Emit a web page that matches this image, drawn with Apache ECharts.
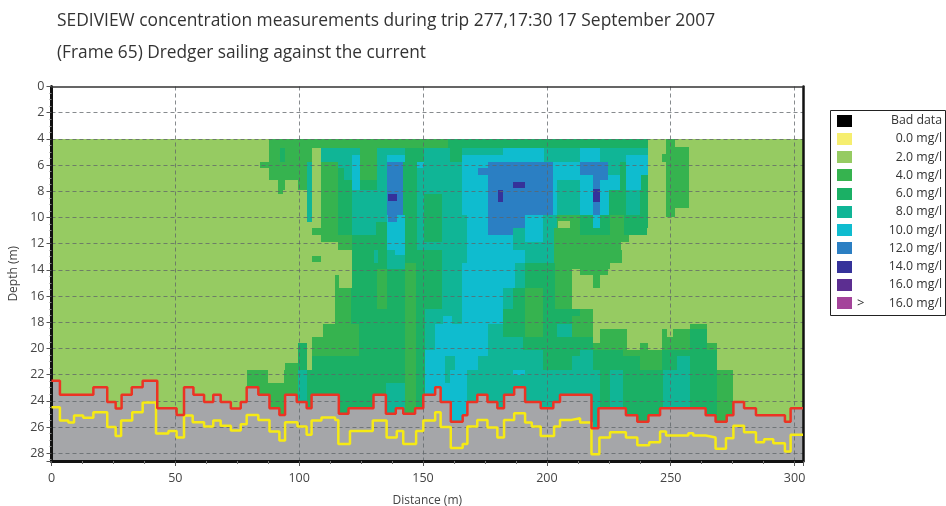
<!DOCTYPE html>
<html><head><meta charset="utf-8">
<style>html,body{margin:0;padding:0;background:#fff}#c{width:946px;height:506px}</style>
<script src="https://cdn.jsdelivr.net/npm/echarts@6/dist/echarts.min.js"></script>
</head><body><div id="c"></div>
<script>
const titleLine1 = 'SEDIVIEW concentration measurements during trip 277,17:30 17 September 2007';
const titleLine2 = '(Frame 65) Dredger sailing against the current';
const xName = 'Distance (m)';
const yName = 'Depth (m)';
const xMax = 303.4;
const yMax = 28.6;
const legendKeys = ['bad', 0, 2, 4, 6, 8, 10, 12, 14, 16, 99];
const legendLabels = ['Bad data','0.0 mg/l','2.0 mg/l','4.0 mg/l','6.0 mg/l','8.0 mg/l','10.0 mg/l','12.0 mg/l','14.0 mg/l','16.0 mg/l','16.0 mg/l'];
const classColors = {bad:'#000000',0:'#f6ee6f',2:'#96cb62',4:'#36b34f',6:'#1bb065',8:'#10b596',10:'#0fbccf',12:'#2b7fc3',14:'#35329a',16:'#5c2e91',99:'#a4449a'};

// Depth bands (top, bottom in m) and, for each, runs: start distance, class, start distance, class ...
const bandEdges = [4,4.67,5.2,5.74,6.25,6.76,7.14,7.9,8.2,9.8,10.32,10.8,11.34,11.85,12.5,13.5,13.9,14.4,15.4,17,17.5,18.1,18.5,19.1,19.6,20.1,20.6,21.13,21.64,22.66,26.6];
const bandRuns = [
 [0,2,87.8,4,160,6,241,2],
 [0,2,87.8,4,92.3,6,94.3,4,105,2,109,8,124.6,4,131.3,8,142.8,6,150.2,8,160.9,6,165.6,8,182.4,10,199,8,213.4,10,221.5,8,241,2],
 [0,2,87.8,4,92.3,6,94.3,4,105,2,109,8,121.2,10,124.6,4,131.3,8,135.3,10,142.8,6,150.2,8,160.9,6,165.6,10,199,8,213.4,10,221.5,8,232,10,241,2],
 [0,2,84.2,4,103,8,105,2,109,4,115.8,8,121.2,10,124.6,4,131.3,8,135.3,12,142,6,147.5,10,150.2,8,165.6,10,176.4,12,202.6,10,213.4,12,224.8,8,229.5,6,232,10,241,2],
 [0,2,87.8,4,103,8,105,2,109,4,115.8,6,118,8,121.2,10,124.6,4,131.3,8,135.3,12,142,6,147.5,8,165.6,10,172.3,12,202.6,10,213.4,12,224.8,8,229.5,6,232,10,241,2],
 [0,2,87.8,4,103,8,105,2,109,4,115.8,6,118,8,121.2,10,124.6,4,131.3,8,135.3,12,142,6,147.5,8,165.6,10,176.4,12,202.6,10,218.8,12,224.8,10,229.5,6,232,10,238,6,241,2],
 [0,2,91.5,4,94.3,2,99.7,4,103,8,105,2,109,4,115.8,6,121.2,10,124.6,6,131.3,8,135.3,12,142,6,147.5,8,165.6,10,176.4,12,202.6,10,204,8,213.4,10,218.8,12,221.5,10,229.5,6,232,10,238,6,241,2],
 [0,2,91.5,4,93.5,2,103,8,105,2,109,4,115.8,6,121.2,8,135.3,12,142,6,147.5,8,165.6,10,176.4,12,202.6,10,204,8,213.4,10,218.8,12,221.5,10,225,6,232,8,237.5,6,241,2],
 [0,2,103,8,105,2,109,4,115.8,6,121.2,8,135.3,12,142,6,147.5,8,150.2,6,157.6,8,165.6,10,176.4,12,202.6,10,204,8,213.4,10,218.8,12,221.5,10,225,6,232,8,237.5,6,241,2],
 [0,2,103,8,105,2,109,4,115.8,6,121.2,8,135.3,10,142.8,6,147.5,8,150.2,6,157.6,8,167.6,10,176.4,12,191.2,10,198.6,8,204,4,213.4,6,218.8,10,221.5,6,225.5,4,231,6,241,2],
 [0,2,109,4,115.8,6,121.2,8,131,6,135.3,10,142.8,6,147.5,8,150.2,6,157.6,8,167.6,10,176.4,12,191.2,10,198.6,8,204,4,213.4,6,218.8,10,221.5,6,225.5,4,231,6,241,2],
 [0,2,105,4,115.8,6,121.2,8,131,6,135.3,10,142.8,6,147.5,8,150.2,6,157.6,8,167.6,10,176.4,12,186.5,8,191.2,10,198.6,8,203,4,213.4,6,225.5,4,231,6,240.5,2],
 [0,2,109,4,121.2,6,135.3,10,142.8,6,147.5,8,150.2,6,157.6,8,167.6,10,186.5,8,191.2,10,198.6,8,203,4,233,2],
 [0,2,115.8,4,121.2,6,135.3,10,142.8,6,147.5,8,150.2,8,167.6,10,186.5,8,203,4,230,2],
 [0,2,121.2,6,130,8,132,6,135.3,8,142.8,6,157.6,8,167.6,10,191.2,8,203,4,230.2,2],
 [0,2,121.2,6,135.3,8,142.8,4,147,6,157.6,8,165.6,10,187,8,191.2,6,203.3,4,225.5,2],
 [0,2,121.2,6,131.3,4,135.3,6,142.8,4,147,6,157.6,8,165.6,10,187,8,191.2,6,203.3,4,210,2,213.4,4,224.8,2],
 [0,2,114.5,4,116,2,121.2,6,131.3,4,135.3,6,142.8,4,147,6,157.6,8,165.6,10,187,8,191.2,6,203.3,4,210,2,218.8,4,221.5,2],
 [0,2,114.5,4,121,6,131.3,4,135.3,6,142.8,4,147,6,157.6,8,165.6,10,182.4,8,186.5,6,191.2,4,198.6,6,203.3,4,210,2],
 [0,2,114.5,4,121,6,142.8,4,147,6,150.8,8,165.6,10,182.4,6,191.2,4,198.6,6,213.4,4,218.8,2],
 [0,2,114.5,4,121,6,142.8,4,147,6,150.8,8,158,10,161.5,8,165.6,10,182.4,6,191.2,4,198.6,6,210,4,218.8,2],
 [0,2,109.8,4,124,6,142.8,4,147,6,150.8,8,155,10,176.4,8,182.4,6,191.2,4,198.6,6,204,8,210,4,218.8,2,257.8,4,264.5,2],
 [0,2,109.8,4,124,6,142.8,4,147,6,150.8,8,155,10,176.4,8,182.4,6,191.2,4,198.6,6,204,8,210,4,218.8,2,221.5,4,232.2,2,246.4,4,248.4,2,251,4,257.8,6,264.5,2],
 [0,2,105,4,124,6,142.8,4,147,6,150.8,8,155,10,176.4,8,190.5,6,218.8,2,221.5,4,232.2,2,246.4,4,257.8,6,264.5,2],
 [0,2,99.7,6,103,2,105,4,124,6,142.8,4,147,6,150.8,8,155,10,176.4,8,190.5,6,218.8,4,232.2,2,237.6,4,241,2,246.4,4,257.8,6,264.5,4,268.6,2],
 [0,2,99.7,6,103,2,105,4,124,6,142.8,4,147,6,150.8,10,176.4,8,198.6,6,213.4,8,218.8,6,230.9,4,246.4,6,268.6,2],
 [0,2,99.7,6,103,2,105,6,142.8,4,147,6,150.8,10,158.9,8,163,10,172.3,8,198.6,6,210,8,218.8,6,237.6,4,246.4,6,252.4,8,257.8,6,268.6,2],
 [0,2,94.3,4,99.7,6,103,2,105,6,142.8,4,147,6,150.8,10,158.9,8,163,10,172.3,8,198.6,6,210,8,218.8,6,237.6,4,246.4,6,252.4,8,257.8,6,268.6,2],
 [0,2,78.8,4,87.5,2,94,4,99.7,8,103,6,142.8,4,147,6,150.8,10,158.9,8,160.9,10,167.6,8,221.5,6,225.5,8,230.9,6,247,8,257.8,6,268.6,4,275.3,2],
 [0,2,78.8,4,99.7,8,103,6,135,8,142.8,4,147,6,150.8,10,160.9,10,167.6,8,221.5,6,225.5,8,230.9,6,247,8,257.8,6,268.6,4,275.3,2]
];
// Small isolated cells: distance from, distance to, depth from, depth to, class
const detailCells = [
 [248,251.7,4,9.94,4],[251.7,257.5,4.64,9.3,4],[246.4,248,5.15,5.74,4],
 [135.7,139.4,8.24,8.74,14],[180.4,182.4,7.9,8.8,14],[186.5,191.2,7.3,7.76,14],[218.8,221.5,7.8,8.8,14],
 [135.7,139.4,9.8,10.32,12],[204.6,209.4,10.3,10.8,2],[105,109,12.94,13.37,4],
 [138.7,142.8,12.5,12.9,10],[186.5,191.2,21.64,22,10]
];
// Sea bed (red) and second echo (yellow) step lines: right end of each step and its depth
const redEnds = [3.4,16.9,22.5,25.9,28.3,32.4,36.8,42.7,50.5,53.5,57.3,61.6,65.3,68.3,72.4,76.4,78.8,83.5,88,92,94.3,99,103,105,116,119.9,130,135,139,142,146.8,150.1,154.9,157.1,161.2,166,167.9,171.9,176,180,182.7,186.8,191.2,197.5,202.6,205.3,218,220.8,231.9,236.5,241,245.7,264.1,268.1,272.6,275.3,279.6,284.4,296.1,298.4,303.4];
const redDepths = [22.48,23.55,22.96,24.1,24.6,23.55,22.96,22.48,24.57,25.08,22.96,23.55,24.1,23.55,24.1,24.6,24.1,22.96,23.55,24.57,25.08,23.55,24.1,24.57,23.55,25,24.57,23.55,25,24.57,25,24.57,23.55,22.96,24.1,25.6,25.1,24.1,23.55,24.1,24.57,23.55,22.96,24.1,24.57,24.1,23.55,26.1,24.57,25.1,25.6,25.1,24.57,25.1,25.6,25.1,24.1,24.57,25.1,25.6,24.57];
const yellowEnds = [3.4,6.8,9.1,12.8,16.9,22.5,25.9,28.1,32.6,36.8,42.2,47.2,50.5,53.5,57,61.6,65.3,68.3,72.4,76.4,78.8,83.5,88,92,94.3,99.3,103,105,109,114.5,115.8,120.5,129.7,135.3,139.4,142,147.2,150.1,154.9,157.1,161.2,166,167.9,171.9,176,180,182.7,186.8,191.2,193.9,197.5,202.9,205.3,210,213.4,218,221.2,225.5,231.9,236.5,241.3,245.7,248.1,257.1,259.1,264.1,268.1,272.3,275.3,279.6,284.4,287.7,291.4,296.1,298.4,303.4];
const yellowDepths = [24.5,25.5,25.66,25.13,25.3,24.87,26,26.7,25.5,24.87,24.13,26.5,26.3,26.8,25.13,25.64,25.97,25.5,25.9,26.27,25.8,25.08,25.46,26.35,27.04,25.64,25.97,26.6,25.5,25.28,25.46,27.3,26.3,25.5,26.8,26.3,27.3,26.3,25.5,24.87,26,27.6,27.3,25.97,25.46,26.04,26.8,25.46,24.95,25.66,25.97,26.7,25.97,25.46,25.33,25.66,28.08,26.8,26.4,26.8,27.4,27.16,26.35,26.65,26.48,26.65,26.8,27.67,26.86,25.9,26.4,27.16,26.93,27.24,27.88,26.6];

const cells = [];
bandRuns.forEach((runs,b)=>{
  for(let i=0;i<runs.length;i+=2){
    const end = i+2<runs.length ? runs[i+2] : xMax;
    cells.push([runs[i],end,bandEdges[b],bandEdges[b+1],runs[i+1]]);
  }
});
detailCells.forEach(c=>cells.push(c));
const bedCells = redEnds.map((e,i)=>[i?redEnds[i-1]:0,e,redDepths[i],yMax]);
const stepLine = (ends,depths)=>[[0,depths[0]]].concat(ends.map((e,i)=>[e,depths[i]]));

const rectItem = colorOf => (params,api)=>{
  const a = api.coord([api.value(0),api.value(2)]);
  const b = api.coord([api.value(1),api.value(3)]);
  const x0=Math.round(a[0]),x1=Math.round(b[0]),y0=Math.round(a[1]),y1=Math.round(b[1]);
  return {type:'rect',shape:{x:x0,y:y0,width:x1-x0,height:y1-y0},style:{fill:colorOf(api)}};
};
const font = '"Open Sans","Noto Sans",sans-serif';
const legendX=830, legendY=110, rowH=18.25;
const graphics=[{type:'rect',shape:{x:legendX+.5,y:legendY+.5,width:115,height:205},style:{fill:'#fff',stroke:'#222',lineWidth:1}}];
legendKeys.forEach((k,i)=>{
  const cy = legendY+10.5+i*rowH;
  graphics.push({type:'rect',shape:{x:837,y:Math.round(cy-6),width:15,height:12},style:{fill:classColors[k]}});
  graphics.push({type:'text',style:{x:942,y:cy,text:legendLabels[i],align:'right',verticalAlign:'middle',fill:'#333',font:'12.3px '+font}});
});
graphics.push({type:'text',style:{x:857,y:legendY+10.5+10*rowH,text:'>',align:'left',verticalAlign:'middle',fill:'#333',font:'13px '+font}});

const chart = echarts.init(document.getElementById('c'),null,{renderer:'canvas'});
const dash={show:true,lineStyle:{color:'#5f6468',type:[4,3],width:1,opacity:.75}};
chart.setOption({
  animation:false,
  title:[
    {text:titleLine1,left:52,top:8,textStyle:{fontFamily:font,fontWeight:'normal',fontSize:17.4,color:'#333'}},
    {text:titleLine2,left:52,top:40,textStyle:{fontFamily:font,fontWeight:'normal',fontSize:17.3,color:'#333'}}
  ],
  grid:{left:51.5,top:86.5,right:143,bottom:45,outerBoundsMode:'none'},
  xAxis:[
   {type:'value',min:0,max:xMax,interval:50,position:'bottom',z:3,name:xName,nameLocation:'middle',nameGap:34,
    nameTextStyle:{fontFamily:font,fontSize:12,color:'#444'},
    axisLine:{show:true,onZero:false,lineStyle:{color:'#111',width:3}},
    axisTick:{show:true,length:5,lineStyle:{color:'#555'},alignWithLabel:true},
    minorTick:{show:true,splitNumber:4,length:3,lineStyle:{color:'#777'}},
    axisLabel:{fontFamily:font,fontSize:12.5,color:'#444',margin:11,showMaxLabel:false},
    splitLine:Object.assign({showMaxLine:false},dash)},
   {type:'value',min:0,max:xMax,position:'top',z:3,axisLine:{show:true,onZero:false,lineStyle:{color:'#333',width:1.5}},axisTick:{show:false},axisLabel:{show:false},splitLine:{show:false}}
  ],
  yAxis:[
   {type:'value',inverse:true,min:0,max:yMax,interval:2,position:'left',z:3,name:yName,nameLocation:'middle',nameGap:27,nameRotate:90,
    nameTextStyle:{fontFamily:font,fontSize:12,color:'#444'},
    axisLine:{show:true,onZero:false,lineStyle:{color:'#111',width:3}},
    axisTick:{show:true,length:5,lineStyle:{color:'#555'}},
    minorTick:{show:true,splitNumber:4,length:2,lineStyle:{color:'#888'}},
    axisLabel:{fontFamily:font,fontSize:12.5,color:'#444',margin:7,showMaxLabel:false},
    splitLine:Object.assign({showMaxLine:false,showMinLine:false},dash)},
   {type:'value',inverse:true,min:0,max:yMax,position:'right',z:3,axisLine:{show:true,onZero:false,lineStyle:{color:'#111',width:2.5}},axisTick:{show:false},axisLabel:{show:false},splitLine:{show:false}}
  ],
  series:[
   {type:'custom',z:1,silent:true,clip:true,data:cells,encode:{x:[0,1],y:[2,3]},
    renderItem:rectItem(api=>classColors[api.value(4)])},
   {type:'custom',z:1.5,silent:true,clip:true,data:bedCells,encode:{x:[0,1],y:[2,3]},
    renderItem:rectItem(()=>'#a5a6a9')},
   {type:'line',z:4,silent:true,step:'start',showSymbol:false,data:stepLine(yellowEnds,yellowDepths),lineStyle:{color:'#f6ea14',width:2.5}},
   {type:'line',z:5,silent:true,step:'start',showSymbol:false,data:stepLine(redEnds,redDepths),lineStyle:{color:'#ec3324',width:2.5}}
  ],
  graphic:graphics
});
</script></body></html>
